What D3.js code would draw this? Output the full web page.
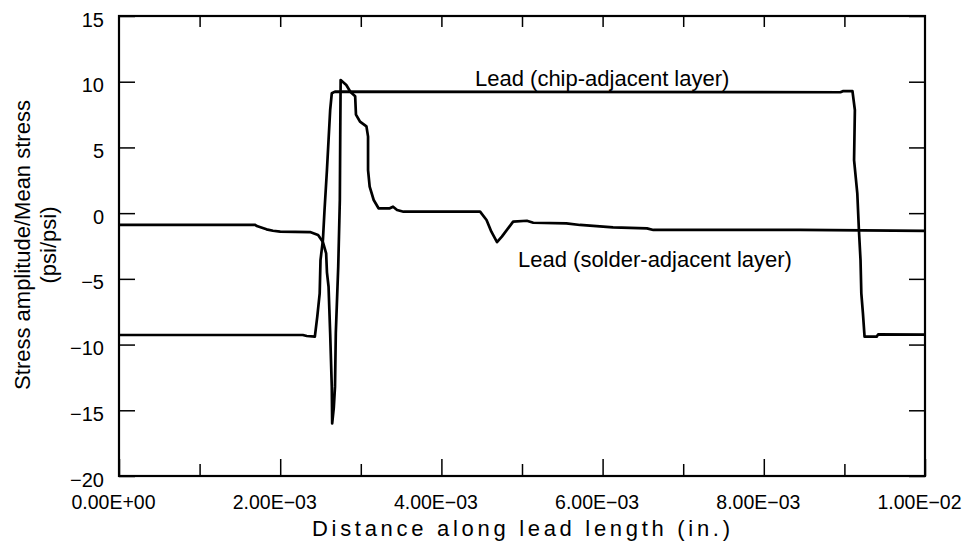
<!DOCTYPE html>
<html>
<head>
<meta charset="utf-8">
<script src="https://cdn.jsdelivr.net/npm/d3@7"></script>
<style>
  body { margin: 0; background: #fff; }
  svg text { font-family: "Liberation Sans", Arial, sans-serif; fill: #000; }
</style>
</head>
<body>
<div id="viz_container"></div>
<script>
// chip-adjacent layer (distance in units of 1e-3 in., stress ratio)
const chipDist = [0, 2.28, 2.33, 2.43, 2.46, 2.49, 2.50, 2.53, 2.55, 2.58, 2.60, 2.62, 2.64, 2.68, 8.95, 8.98, 9.10, 9.13, 9.12, 9.16, 9.18, 9.20, 9.21, 9.23, 9.25, 9.40, 9.42, 10.0];
const chipStress = [-9.27, -9.27, -9.35, -9.40, -7.88, -6.10, -3.57, -2.04, 0.24, 3.28, 5.57, 7.85, 9.12, 9.25, 9.2, 9.28, 9.28, 7.85, 4.04, 1.51, -1.28, -3.57, -6.10, -7.62, -9.40, -9.40, -9.22, -9.25];

// solder-adjacent layer
const solderDist = [0, 1.69, 1.71, 1.83, 1.91, 2.00, 2.37, 2.47, 2.53, 2.57, 2.58, 2.60, 2.61, 2.62, 2.63, 2.64, 2.645, 2.665, 2.68, 2.69, 2.72, 2.74, 2.745, 2.75, 2.82, 2.87, 2.93, 2.94, 2.99, 3.07, 3.09, 3.09, 3.11, 3.16, 3.22, 3.36, 3.40, 3.45, 3.53, 4.48, 4.56, 4.62, 4.69, 4.75, 4.89, 5.06, 5.14, 5.55, 5.72, 6.13, 6.55, 6.63, 8.45, 10.0];
const solderStress = [-0.9, -0.9, -0.98, -1.23, -1.34, -1.41, -1.44, -1.66, -2.2, -3.06, -4.5, -5.6, -7.37, -9.14, -11.17, -13.2, -16.0, -14.8, -13.2, -9.1, -4.07, 1.0, 6.0, 10.13, 9.75, 9.24, 8.9, 7.5, 6.96, 6.6, 5.82, 3.28, 2.01, 1.0, 0.37, 0.37, 0.49, 0.24, 0.11, 0.11, -0.52, -1.41, -2.2, -1.79, -0.65, -0.58, -0.73, -0.78, -0.90, -1.08, -1.16, -1.28, -1.28, -1.35];

const xMajorTicks = [0, 2, 4, 6, 8, 10];
const xTickLabels = ["0.00E+00", "2.00E\u221203", "4.00E\u221203", "6.00E\u221203", "8.00E\u221203", "1.00E\u221202"];
const xMinorTicks = [1, 3, 5, 7, 9];
const xTopTicks = [1, 2, 3, 4, 5, 6, 7, 8, 9];
const yTicks = [-20, -15, -10, -5, 0, 5, 10, 15];

const width = 965, height = 541;
const margin = {top: 16, right: 40, bottom: 65, left: 119};

const svg = d3.select("#viz_container")
  .append("svg")
  .attr("width", width)
  .attr("height", height);

const x = d3.scaleLinear().domain([0, 10]).range([margin.left, width - margin.right]);
const y = d3.scaleLinear().domain([-20, 15]).range([height - margin.bottom, margin.top]);

const fmtY = d => d < 0 ? "\u2212" + Math.abs(d) : String(d);

// bottom axis, long ticks with labels
const bottomMajor = svg.append("g")
  .attr("transform", `translate(0,${y(-20)})`)
  .call(d3.axisBottom(x).tickValues(xMajorTicks).tickSize(-17).tickPadding(19)
    .tickFormat((d, i) => xTickLabels[i]));
bottomMajor.selectAll("text").style("font-size", "19.5px").attr("dx", "-6");

svg.append("g")
  .attr("transform", `translate(0,${y(-20)})`)
  .call(d3.axisBottom(x).tickValues(xMinorTicks).tickSize(-12).tickFormat(""));

svg.append("g")
  .attr("transform", `translate(0,${y(15)})`)
  .call(d3.axisTop(x).tickValues(xTopTicks).tickSize(-11).tickFormat(""));

const leftAxis = svg.append("g")
  .attr("transform", `translate(${x(0)},0)`)
  .call(d3.axisLeft(y).tickValues(yTicks).tickSize(-16).tickPadding(15).tickFormat(fmtY));
leftAxis.selectAll("text").style("font-size", "20px").attr("dy", "0.5em");

svg.append("g")
  .attr("transform", `translate(${x(10)},0)`)
  .call(d3.axisRight(y).tickValues(yTicks).tickSize(-16).tickFormat(""));

svg.selectAll(".domain").remove();
svg.selectAll(".tick line").attr("stroke", "#000").attr("stroke-width", 1.5);

// frame
svg.append("rect")
  .attr("x", x(0)).attr("y", y(15))
  .attr("width", x(10) - x(0)).attr("height", y(-20) - y(15))
  .attr("fill", "none").attr("stroke", "#000").attr("stroke-width", 2.2);

// curves
const line = d3.line().x(d => x(d[0])).y(d => y(d[1]));
const chipData = chipDist.map((d, i) => [d, chipStress[i]]);
const solderData = solderDist.map((d, i) => [d, solderStress[i]]);

svg.append("g").selectAll("path")
  .data([chipData, solderData])
  .join("path")
  .attr("d", line)
  .attr("fill", "none")
  .attr("stroke", "#000")
  .attr("stroke-width", 2.7)
  .attr("stroke-linejoin", "round");

// annotations
svg.append("text")
  .attr("x", 475).attr("y", 86)
  .style("font-size", "22px")
  .text("Lead (chip-adjacent layer)");
svg.append("text")
  .attr("x", 518).attr("y", 267)
  .style("font-size", "22px")
  .text("Lead (solder-adjacent layer)");

// axis titles
svg.append("text")
  .attr("x", 521).attr("y", 536)
  .attr("text-anchor", "middle")
  .attr("textLength", 418)
  .attr("lengthAdjust", "spacing")
  .style("font-size", "22px")
  .text("Distance along lead length (in.)");

const yTitle = svg.append("text")
  .attr("transform", "translate(30,245) rotate(-90)")
  .attr("text-anchor", "middle")
  .style("font-size", "22px");
yTitle.append("tspan").attr("x", 0).attr("y", 0).text("Stress amplitude/Mean stress");
yTitle.append("tspan").attr("x", 0).attr("y", 26).text("(psi/psi)");
</script>
</body>
</html>
